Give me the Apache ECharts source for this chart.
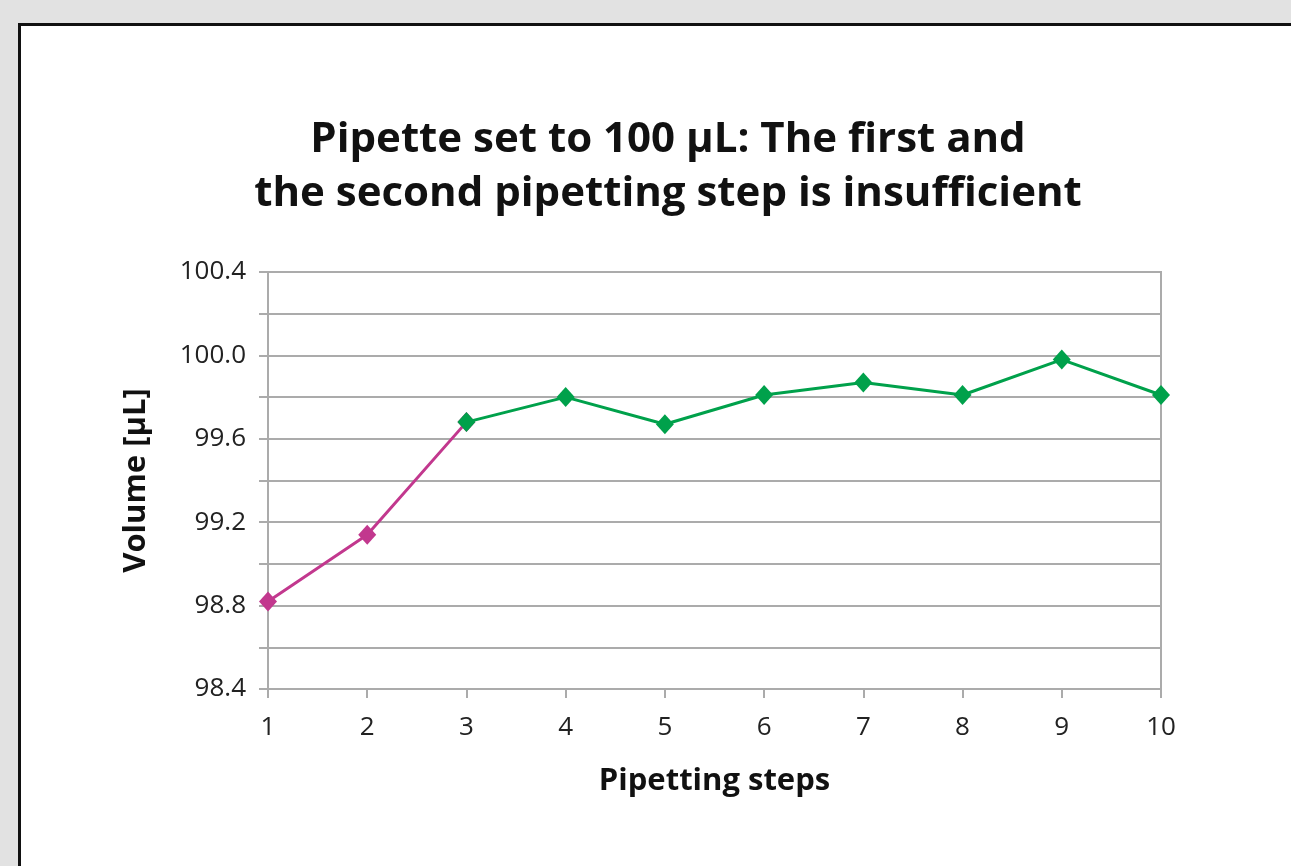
<!DOCTYPE html>
<html>
<head>
<meta charset="utf-8">
<script src="https://cdn.jsdelivr.net/npm/echarts@6/dist/echarts.min.js"></script>
<style>
    html, body { margin: 0; padding: 0; background: #e2e2e2; overflow: hidden; }
    #frame {
        position: absolute; left: 18px; top: 23px; width: 1400px; height: 1000px;
        background: #fff; border: 3px solid #111; box-sizing: border-box;
    }
    #container { position: absolute; left: 0; top: 0; width: 1291px; height: 866px; }
</style>
</head>
<body>
<div id="frame"></div>
<div id="container"></div>
<script>
// pipetting steps
var steps = ['1', '2', '3', '4', '5', '6', '7', '8', '9', '10'];
// first steps (insufficient) - magenta
var firstValues = [98.82, 99.14, 99.68, '-', '-', '-', '-', '-', '-', '-'];
// later steps - green
var laterValues = ['-', '-', 99.68, 99.80, 99.67, 99.81, 99.87, 99.81, 99.98, 99.81];

var myChart = echarts.init(document.getElementById('container'));
var gridColor = '#ababab';
var option = {
    backgroundColor: 'transparent',
    animation: false,
    textStyle: { fontFamily: 'Open Sans' },
    title: {
        text: 'Pipette set to 100 µL: The first and\nthe second pipetting step is insufficient',
        left: 663,
        top: 108,
        textAlign: 'center',
        textStyle: {
            fontFamily: 'Open Sans',
            fontWeight: 'bold',
            fontSize: 42,
            lineHeight: 54,
            color: '#111'
        }
    },
    grid: {
        left: 268,
        top: 272,
        right: 130,
        bottom: 177,
        show: true,
        borderColor: gridColor,
        borderWidth: 2
    },
    xAxis: {
        type: 'category',
        boundaryGap: false,
        data: steps,
        name: 'Pipetting steps',
        nameLocation: 'middle',
        nameGap: 77,
        nameTextStyle: { fontSize: 31, fontWeight: 'bold', color: '#111' },
        axisLine: { lineStyle: { color: gridColor, width: 2 } },
        axisTick: { show: true, length: 9, alignWithLabel: true, lineStyle: { color: gridColor, width: 2 } },
        axisLabel: { fontSize: 26, color: '#222', margin: 26 },
        splitLine: { show: false }
    },
    yAxis: {
        type: 'value',
        min: 98.4,
        max: 100.4,
        interval: 0.2,
        name: 'Volume [µL]',
        nameLocation: 'middle',
        nameGap: 116,
        nameTextStyle: { fontSize: 31, fontWeight: 'bold', color: '#111' },
        axisLine: { show: true, lineStyle: { color: gridColor, width: 2 } },
        axisTick: { show: true, length: 9, lineStyle: { color: gridColor, width: 2 } },
        axisLabel: {
            fontSize: 26,
            color: '#222',
            margin: 22,
            formatter: function (v) {
                var k = Math.round((v - 98.4) / 0.2);
                return k % 2 === 0 ? v.toFixed(1) : '';
            }
        },
        splitLine: { show: true, lineStyle: { color: gridColor, width: 2 } }
    },
    series: [
        {
            name: 'first',
            type: 'line',
            data: firstValues,
            symbol: 'diamond',
            symbolSize: [18, 20],
            lineStyle: { color: '#c2388e', width: 3 },
            itemStyle: { color: '#c2388e' },
            z: 2
        },
        {
            name: 'later',
            type: 'line',
            data: laterValues,
            symbol: 'diamond',
            symbolSize: [18, 20],
            lineStyle: { color: '#00a14b', width: 3 },
            itemStyle: { color: '#00a14b' },
            z: 3
        }
    ]
};
myChart.setOption(option);
</script>
</body>
</html>
